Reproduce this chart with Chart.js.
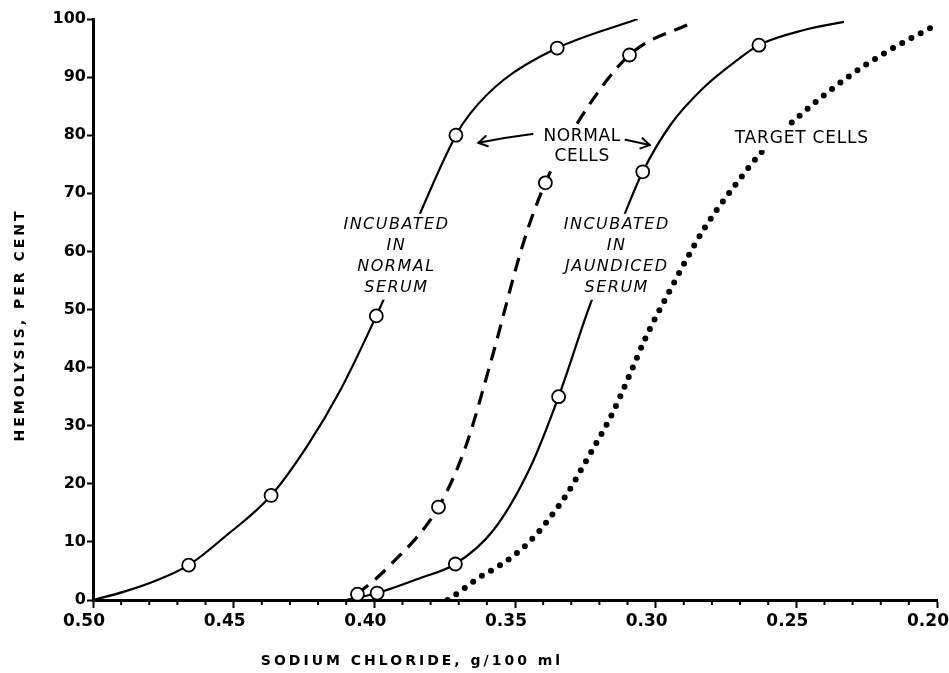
<!DOCTYPE html>
<html>
<head>
<meta charset="utf-8">
<script src="https://cdn.jsdelivr.net/npm/chart.js@4"></script>
<style>
  body { margin: 0; background: #fff; }
  canvas { display: block; }
</style>
</head>
<body>
<canvas id="chart" width="949" height="673"></canvas>
<script>
// values (x = NaCl g/100 ml, y = % hemolysis)
// each curve is traced through a few extra points; the circles are the measured ones
const xNormalSerum = [0.500, 0.4892, 0.4773, 0.466, 0.4536, 0.4367, 0.424, 0.4121, 0.3993, 0.371,
                      0.3658, 0.3541, 0.335, 0.3064];
const yNormalSerum = [0, 1.4, 3.4, 6, 10.7, 18, 26.4, 36.1, 48.9, 80,
                      83.8, 89.5, 95, 100];
const circlesNormalSerum = [3, 5, 8, 9, 12];

const xNormalCells = [0.406, 0.3954, 0.3772, 0.3676, 0.3587, 0.347, 0.3392, 0.3278, 0.3093, 0.2865];
const yNormalCells = [1, 5.5, 16, 26.3, 40.8, 61.5, 71.8, 82.1, 93.8, 99.5];
const circlesNormalCells = [0, 2, 6, 8];

const xJaundiced = [0.410, 0.399, 0.3836, 0.3712, 0.3577, 0.3445, 0.3345, 0.3238, 0.3107, 0.3046,
                    0.2947, 0.2829, 0.2708, 0.2633, 0.2473, 0.2331];
const yJaundiced = [0, 1.2, 3.8, 6.2, 12, 22.9, 35, 50.2, 66.8, 73.7,
                    81.8, 88.2, 93, 95.5, 98.1, 99.5];
const circlesJaundiced = [1, 3, 6, 9, 13];

const xTarget = [0.374, 0.3694, 0.363, 0.3562, 0.348, 0.342, 0.3363, 0.3313, 0.3256, 0.3153, 0.31,
                 0.3036, 0.2947, 0.2829, 0.2708, 0.2616, 0.2473, 0.2317, 0.2174, 0.2021];
const yTarget = [0, 1.5, 3.8, 5.7, 8.6, 11.5, 15, 18.4, 23.2, 32.2, 37.9,
                 45.1, 53.5, 63.8, 72, 77.5, 84, 90, 94.5, 98.5];

const xTicks = [0.50, 0.45, 0.40, 0.35, 0.30, 0.25, 0.20];
const yTicks = [0, 10, 20, 30, 40, 50, 60, 70, 80, 90, 100];

function pts(xs, ys) {
  return xs.map((x, i) => ({ x: x, y: ys[i] }));
}
function pick(xs, ys, idx) {
  return idx.map(i => ({ x: xs[i], y: ys[i] }));
}

const circleStyle = {
  showLine: false,
  pointRadius: 6.5,
  pointHoverRadius: 6.5,
  pointBackgroundColor: '#fff',
  pointBorderColor: '#000',
  pointBorderWidth: 1.8
};
const lineStyle = {
  borderColor: '#000',
  pointRadius: 0,
  fill: false,
  cubicInterpolationMode: 'monotone'
};

const annotate = {
  id: 'annotate',
  afterDatasetsDraw(chart) {
    const ctx = chart.ctx;
    const sx = chart.scales.x, sy = chart.scales.y;

    // text lines that sit in a gap of the curve behind them
    function label(lines, xv, yv, font, spacing, step, minW) {
      const cx = sx.getPixelForValue(xv);
      const y0 = sy.getPixelForValue(yv);
      ctx.save();
      ctx.font = font;
      ctx.letterSpacing = spacing;
      ctx.textAlign = 'center';
      ctx.textBaseline = 'middle';
      ctx.fillStyle = '#fff';
      lines.forEach((t, i) => {
        const w = Math.max(ctx.measureText(t).width + 4, minW);
        ctx.fillRect(cx - w / 2, y0 + i * step - step / 2 - 1, w, step + 2);
      });
      ctx.fillStyle = '#000';
      lines.forEach((t, i) => ctx.fillText(t, cx + 1, y0 + i * step));
      ctx.restore();
    }
    const italic = 'italic 16px "DejaVu Sans"';
    label(['INCUBATED', 'IN', 'NORMAL', 'SERUM'], 0.3925, 64.5, italic, '1.5px', 21, 60);
    label(['INCUBATED', 'IN', 'JAUNDICED', 'SERUM'], 0.3142, 64.5, italic, '1.5px', 21, 60);
    const plain = '17px "DejaVu Sans"';
    label(['NORMAL', 'CELLS'], 0.3265, 79.8, plain, '0.6px', 20, 0);
    label(['TARGET CELLS'], 0.2484, 79.5, plain, '0.8px', 22, 0);

    function arrow(x0, y0, x1, y1, bend) {
      const a = [sx.getPixelForValue(x0), sy.getPixelForValue(y0)];
      const b = [sx.getPixelForValue(x1), sy.getPixelForValue(y1)];
      const mx = (a[0] + b[0]) / 2, my = (a[1] + b[1]) / 2 + bend;
      ctx.save();
      ctx.strokeStyle = '#000';
      ctx.lineWidth = 2;
      ctx.lineCap = 'round';
      ctx.beginPath();
      ctx.moveTo(a[0], a[1]);
      ctx.quadraticCurveTo(mx, my, b[0], b[1]);
      ctx.stroke();
      const ang = Math.atan2(b[1] - my, b[0] - mx);
      ctx.beginPath();
      ctx.moveTo(b[0] - 10 * Math.cos(ang - 0.55), b[1] - 10 * Math.sin(ang - 0.55));
      ctx.lineTo(b[0], b[1]);
      ctx.lineTo(b[0] - 10 * Math.cos(ang + 0.55), b[1] - 10 * Math.sin(ang + 0.55));
      ctx.stroke();
      ctx.restore();
    }
    arrow(0.3438, 80.2, 0.3630, 78.7, -1);
    arrow(0.3107, 79.2, 0.3021, 78.3, 0);
  },
  afterDraw(chart) {
    const ctx = chart.ctx;
    const sx = chart.scales.x;
    const bottom = chart.chartArea.bottom;
    ctx.save();
    // short minor ticks every 0.01
    ctx.strokeStyle = '#000';
    ctx.lineWidth = 2;
    sx.ticks.forEach(t => {
      if (Math.round(t.value * 100) % 5 !== 0) {
        const px = sx.getPixelForValue(t.value);
        ctx.beginPath();
        ctx.moveTo(px, bottom);
        ctx.lineTo(px, bottom + 5);
        ctx.stroke();
      }
    });
    // axis titles
    ctx.fillStyle = '#000';
    ctx.font = 'bold 14px "DejaVu Sans"';
    ctx.letterSpacing = '3px';
    ctx.textAlign = 'center';
    ctx.textBaseline = 'middle';
    ctx.fillText('SODIUM CHLORIDE, g/100 ml', 412, 661);
    ctx.translate(20, 325);
    ctx.rotate(-Math.PI / 2);
    ctx.fillText('HEMOLYSIS, PER CENT', 0, 0);
    ctx.restore();
  }
};

new Chart(document.getElementById('chart'), {
  type: 'line',
  data: {
    datasets: [
      Object.assign({ data: pick(xNormalSerum, yNormalSerum, circlesNormalSerum) }, circleStyle),
      Object.assign({ data: pick(xNormalCells, yNormalCells, circlesNormalCells) }, circleStyle),
      Object.assign({ data: pick(xJaundiced, yJaundiced, circlesJaundiced) }, circleStyle),
      Object.assign({ data: pts(xNormalSerum, yNormalSerum), borderWidth: 2.2 }, lineStyle),
      Object.assign({ data: pts(xNormalCells, yNormalCells), borderWidth: 3.2, borderDash: [14, 9] }, lineStyle),
      Object.assign({ data: pts(xJaundiced, yJaundiced), borderWidth: 2.2 }, lineStyle),
      Object.assign({ data: pts(xTarget, yTarget), borderWidth: 6, borderDash: [0, 10.5],
                      borderCapStyle: 'round' }, lineStyle)
    ]
  },
  options: {
    responsive: false,
    animation: false,
    events: [],
    layout: { padding: { top: 19, right: 12, left: 0, bottom: 0 } },
    plugins: { legend: { display: false }, tooltip: { enabled: false } },
    scales: {
      x: {
        type: 'linear',
        reverse: true,
        min: 0.20,
        max: 0.50,
        afterFit(scale) {
          scale.height = 73;
          scale.paddingLeft = 0;
          scale.paddingRight = 0;
        },
        border: { color: '#000', width: 3 },
        grid: {
          drawOnChartArea: false,
          tickLength: 8,
          tickWidth: 2,
          tickColor: c => (Math.round(c.tick.value * 100) % 5 === 0 ? '#000' : 'rgba(0,0,0,0)')
        },
        ticks: {
          stepSize: 0.01,
          autoSkip: false,
          maxRotation: 0,
          padding: 3,
          labelOffset: -9,
          color: '#000',
          font: { family: 'DejaVu Sans', size: 17, weight: 'bold' },
          callback: v => {
            const s = xTicks.find(t => Math.abs(t - v) < 1e-6);
            return s === undefined ? '' : s.toFixed(2);
          }
        }
      },
      y: {
        min: 0,
        max: 100,
        afterFit(scale) { scale.width = 93; },
        border: { color: '#000', width: 3 },
        grid: { drawOnChartArea: false, tickLength: 6, tickWidth: 2, tickColor: '#000' },
        afterBuildTicks(scale) { scale.ticks = yTicks.map(v => ({ value: v })); },
        ticks: {
          padding: 1,
          color: '#000',
          font: { family: 'DejaVu Sans', size: 16, weight: 'bold' }
        }
      }
    }
  },
  plugins: [annotate]
});
</script>
</body>
</html>
